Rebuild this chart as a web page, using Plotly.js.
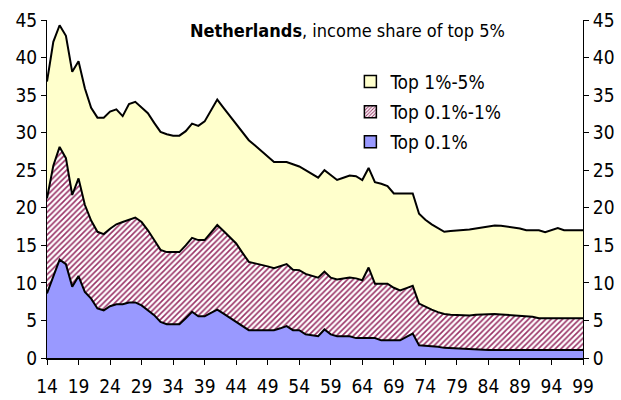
<!DOCTYPE html>
<html>
<head>
<meta charset="utf-8">
<script src="https://cdn.plot.ly/plotly-3.0.1.min.js"></script>
<style>html,body{margin:0;padding:0;background:#fff;}#chart{width:621px;height:400px;}</style>
</head>
<body>
<div id="chart"></div>
<script>
// Years 1914-1999
const years = [1914,1915,1916,1917,1918,1919,1920,1921,1922,1923,1924,1925,1926,1927,1928,1929,1930,1931,1932,1933,1934,1935,1936,1937,1938,1939,1940,1941,1942,1943,1944,1945,1946,1947,1948,1949,1950,1951,1952,1953,1954,1955,1956,1957,1958,1959,1960,1961,1962,1963,1964,1965,1966,1967,1968,1969,1970,1971,1972,1973,1974,1975,1976,1977,1978,1979,1980,1981,1982,1983,1984,1985,1986,1987,1988,1989,1990,1991,1992,1993,1994,1995,1996,1997,1998,1999];
// Income share of top 5% (upper boundary of "Top 1%-5%")
const top5 = [36.8,42.1,44.3,42.9,38.1,39.5,35.9,33.3,32.0,32.0,32.8,33.1,32.2,33.8,34.1,33.4,32.6,31.3,30.1,29.8,29.6,29.6,30.2,31.2,30.9,31.5,33.0,34.4,33.3,32.2,31.1,30.0,29.0,28.3,27.6,26.8,26.1,26.1,26.1,25.8,25.5,25.0,24.5,24.0,25.0,24.3,23.7,24.0,24.3,24.2,23.7,25.3,23.4,23.2,22.9,21.9,21.9,21.9,21.9,19.2,18.4,17.8,17.3,16.8,16.9,16.95,17.0,17.1,17.25,17.4,17.5,17.65,17.6,17.5,17.4,17.25,17.0,17.0,17.0,16.75,17.05,17.3,17.0,17.0,17.0,17.0];
// Income share of top 1% (upper boundary of "Top 0.1%-1%")
const top1 = [21.25,25.6,28.1,26.6,21.7,23.9,20.4,18.3,16.8,16.5,17.2,17.8,18.1,18.4,18.7,18.1,17.0,15.7,14.4,14.1,14.1,14.1,15.0,16.0,15.7,15.7,16.7,17.7,16.9,16.1,15.25,14.0,12.8,12.6,12.45,12.2,11.95,12.2,12.5,11.75,11.7,11.2,10.95,10.7,11.5,10.7,10.45,10.6,10.7,10.6,10.35,12.05,9.9,9.9,9.9,9.35,9.0,9.3,9.6,7.25,6.8,6.45,6.1,5.85,5.75,5.7,5.65,5.65,5.75,5.8,5.85,5.85,5.8,5.75,5.7,5.6,5.55,5.5,5.3,5.3,5.3,5.3,5.3,5.3,5.3,5.3];
// Income share of top 0.1%
const top01 = [8.6,11.0,13.1,12.5,9.5,10.9,8.8,7.9,6.6,6.35,6.9,7.15,7.15,7.4,7.4,7.0,6.3,5.7,4.8,4.5,4.5,4.5,5.3,6.15,5.55,5.55,6.0,6.45,5.9,5.35,4.8,4.25,3.7,3.7,3.7,3.7,3.7,3.95,4.25,3.7,3.7,3.15,3.0,2.9,3.8,3.15,2.9,2.9,2.9,2.65,2.65,2.65,2.65,2.35,2.35,2.35,2.35,2.8,3.25,1.7,1.65,1.6,1.5,1.35,1.3,1.3,1.25,1.2,1.15,1.1,1.05,1.05,1.05,1.05,1.05,1.05,1.05,1.05,1.05,1.05,1.05,1.05,1.05,1.05,1.05,1.05];
const seriesNames = ["Top 1%-5%", "Top 0.1%-1%", "Top 0.1%"];
const tickYears = [1914,1919,1924,1929,1934,1939,1944,1949,1954,1959,1964,1969,1974,1979,1984,1989,1994,1999];
const tickLabels = tickYears.map(y => String(y % 100).padStart(2, "0"));
const yTicks = [0,5,10,15,20,25,30,35,40,45];

const FONT = "'DejaVu Sans Condensed', 'Liberation Sans Narrow', sans-serif";
const FS = 19;
const lineStyle = {color: "#000", width: 2};
const YELLOW = "#FFFFCC", BLUE = "#9999FF", MAROON = "#993366";
const hatch = {shape: "/", fgcolor: MAROON, bgcolor: "#FFFFFF", size: 4, solidity: 0.4};

const traces = [
  {x: years, y: top5, name: seriesNames[0], type: "scatter", mode: "lines", fill: "tozeroy",
   fillcolor: YELLOW, line: lineStyle, showlegend: false, hoverinfo: "skip"},
  {x: years, y: top1, name: seriesNames[1], type: "scatter", mode: "lines", fill: "tozeroy",
   fillcolor: "#FFFFFF", line: lineStyle, showlegend: false, hoverinfo: "skip", fillpattern: hatch},
  {x: years, y: top01, name: seriesNames[2], type: "scatter", mode: "lines", fill: "tozeroy",
   fillcolor: BLUE, line: lineStyle, showlegend: false, hoverinfo: "skip"},
  // legend keys (boxes)
  {x: [null], y: [null], name: seriesNames[0], type: "bar", legendgroup: "a",
   marker: {color: YELLOW, line: {color: "#000", width: 1.5}}},
  {x: [null], y: [null], name: seriesNames[1], type: "bar", legendgroup: "b",
   marker: {color: "#FFFFFF", line: {color: "#000", width: 1.5}, pattern: {shape: "/", fgcolor: MAROON, bgcolor: "#FFFFFF", size: 3, solidity: 0.4}}},
  {x: [null], y: [null], name: seriesNames[2], type: "bar", legendgroup: "c",
   marker: {color: BLUE, line: {color: "#000", width: 1.5}}},
  {x: years, y: top5, yaxis: "y2", type: "scatter", mode: "lines", line: {width: 0},
   opacity: 0, showlegend: false, hoverinfo: "skip"}
];

const layout = {
  width: 621, height: 400,
  margin: {l: 47, r: 38, t: 20, b: 42},
  paper_bgcolor: "#fff", plot_bgcolor: "#fff",
  font: {family: FONT, size: FS, color: "#000"},
  showlegend: true,
  legend: {x: 0.566, y: 0.874, xanchor: "left", yanchor: "top", bgcolor: "rgba(0,0,0,0)",
           font: {family: FONT, size: FS}, tracegroupgap: 2.5, itemwidth: 30, traceorder: "grouped"},
  xaxis: {range: [1914, 1999], tickmode: "array", tickvals: tickYears, ticktext: tickLabels,
          showgrid: false, zeroline: false, showline: true, linecolor: "#000", linewidth: 2,
          ticks: "outside", ticklen: 5, tickcolor: "#000", ticklabelstandoff: 5,
          tickfont: {family: FONT, size: FS}},
  yaxis: {range: [0, 45], tickmode: "array", tickvals: yTicks, showgrid: false, zeroline: false,
          showline: true, linecolor: "#000", linewidth: 1, ticks: "outside", ticklen: 5,
          tickcolor: "#000", tickfont: {family: FONT, size: FS}},
  yaxis2: {range: [0, 45], overlaying: "y", side: "right", tickmode: "array", tickvals: yTicks,
           showgrid: false, zeroline: false, showline: true, linecolor: "#000", linewidth: 1,
           ticks: "outside", ticklen: 5, tickcolor: "#000", tickfont: {family: FONT, size: FS}},
  annotations: [{
    text: "<b>Netherlands</b>, income share of top 5%", xref: "paper", yref: "paper",
    x: 0.56, y: 0.97, xanchor: "center", yanchor: "middle", showarrow: false,
    font: {family: FONT, size: 18, color: "#000"}
  }]
};

Plotly.newPlot("chart", traces, layout, {displayModeBar: false, staticPlot: true});
</script>
</body>
</html>
